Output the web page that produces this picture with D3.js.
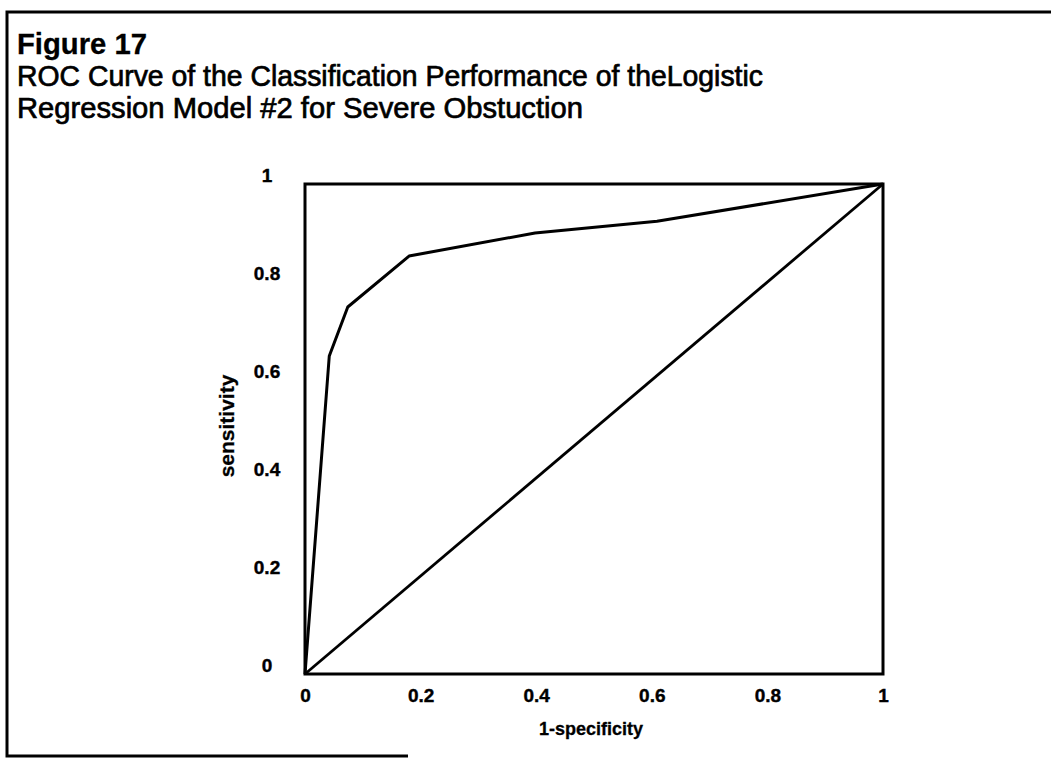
<!DOCTYPE html>
<html>
<head>
<meta charset="utf-8">
<script src="https://cdn.jsdelivr.net/npm/d3@7"></script>
<style>
  html, body { margin: 0; padding: 0; background: #fff; }
  svg { display: block; font-family: "Liberation Sans", Arial, Helvetica, sans-serif; }
</style>
</head>
<body>
<div id="chart"></div>
<script>
// ROC curve points
const fpr = [0, 0.042, 0.074, 0.18, 0.398, 0.609, 1]
const tpr = [0, 0.649, 0.749, 0.853, 0.90, 0.924, 1]
// chance line
const diagX = [0, 1]
const diagY = [0, 1]

const xTicks = [0, 0.2, 0.4, 0.6, 0.8, 1]
const yTicks = [0, 0.2, 0.4, 0.6, 0.8, 1]

const titleLines = [
  'Figure 17',
  'ROC Curve of the Classification Performance of theLogistic',
  'Regression Model #2 for Severe Obstuction'
]

const W = 1051
const H = 758
const margin = { t: 184, r: 168, b: 84, l: 305 }
const innerWidth = W - margin.l - margin.r
const innerHeight = H - margin.t - margin.b

const svg = d3.select('#chart')
  .append('svg')
  .attr('width', W)
  .attr('height', H)

// page frame (top, left and a short bottom piece)
svg.append('path')
  .attr('d', `M1051,12 L7,12 L7,756 L408,756`)
  .attr('fill', 'none')
  .attr('stroke', '#000')
  .attr('stroke-width', 3)

// title
const titleY = [54, 86, 118]
const titleW = [130, 746, 566]
svg.append('g')
  .selectAll('text')
  .data(titleLines)
  .join('text')
  .attr('x', 17)
  .attr('y', (d, i) => titleY[i])
  .attr('font-size', 29)
  .attr('font-weight', (d, i) => i === 0 ? 'bold' : 'normal')
  .attr('stroke', '#000')
  .attr('stroke-width', (d, i) => i === 0 ? 0.3 : 0.7)
  .attr('textLength', (d, i) => titleW[i])
  .attr('lengthAdjust', 'spacingAndGlyphs')
  .text(d => d)

const scaleX = d3.scaleLinear().domain([0, 1]).range([0, innerWidth])
const scaleY = d3.scaleLinear().domain([0, 1]).range([innerHeight, 0])

const plot = svg.append('g')
  .attr('class', 'plot')
  .attr('transform', `translate(${margin.l}, ${margin.t})`)

const axisX = d3.axisBottom(scaleX)
  .tickValues(xTicks)
  .tickSize(0)
  .tickPadding(15)
  .tickFormat(d3.format('~g'))

const axisY = d3.axisLeft(scaleY)
  .tickValues(yTicks)
  .tickSize(0)
  .tickPadding(38)
  .tickFormat(d3.format('~g'))

const gx = plot.append('g')
  .attr('class', 'axis axis-x')
  .attr('transform', `translate(0, ${innerHeight})`)
  .call(axisX)

const gy = plot.append('g')
  .attr('class', 'axis axis-y')
  .call(axisY)

gx.select('.domain').remove()
gy.select('.domain').remove()
svg.selectAll('.axis')
  .attr('font-family', null)
  .attr('font-size', 19)
  .attr('font-weight', 'bold')
svg.selectAll('.axis text')
  .attr('fill', '#000')
  .attr('stroke', '#000')
  .attr('stroke-width', 0.4)
gy.selectAll('text')
  .attr('text-anchor', 'middle')
  .attr('x', -38)
  .attr('dy', '-0.15em')

// plot box
plot.append('rect')
  .attr('x', 0)
  .attr('y', 0)
  .attr('width', innerWidth)
  .attr('height', innerHeight)
  .attr('fill', 'none')
  .attr('stroke', '#000')
  .attr('stroke-width', 3)

const line = d3.line()
  .x(d => scaleX(d[0]))
  .y(d => scaleY(d[1]))

plot.append('path')
  .datum(d3.zip(diagX, diagY))
  .attr('d', line)
  .attr('fill', 'none')
  .attr('stroke', '#000')
  .attr('stroke-width', 2.8)

plot.append('path')
  .datum(d3.zip(fpr, tpr))
  .attr('d', line)
  .attr('fill', 'none')
  .attr('stroke', '#000')
  .attr('stroke-width', 3)
  .attr('stroke-linejoin', 'round')

// axis titles
plot.append('text')
  .attr('x', innerWidth / 2 - 3)
  .attr('y', innerHeight + 61)
  .attr('text-anchor', 'middle')
  .attr('font-size', 18)
  .attr('font-weight', 'bold')
  .attr('stroke', '#000')
  .attr('stroke-width', 0.3)
  .text('1-specificity')

plot.append('text')
  .attr('transform', `translate(${-71}, ${innerHeight / 2 - 3}) rotate(-90)`)
  .attr('text-anchor', 'middle')
  .attr('font-size', 21)
  .attr('font-weight', 'bold')
  .attr('stroke', '#000')
  .attr('stroke-width', 0.3)
  .text('sensitivity')
</script>
</body>
</html>
